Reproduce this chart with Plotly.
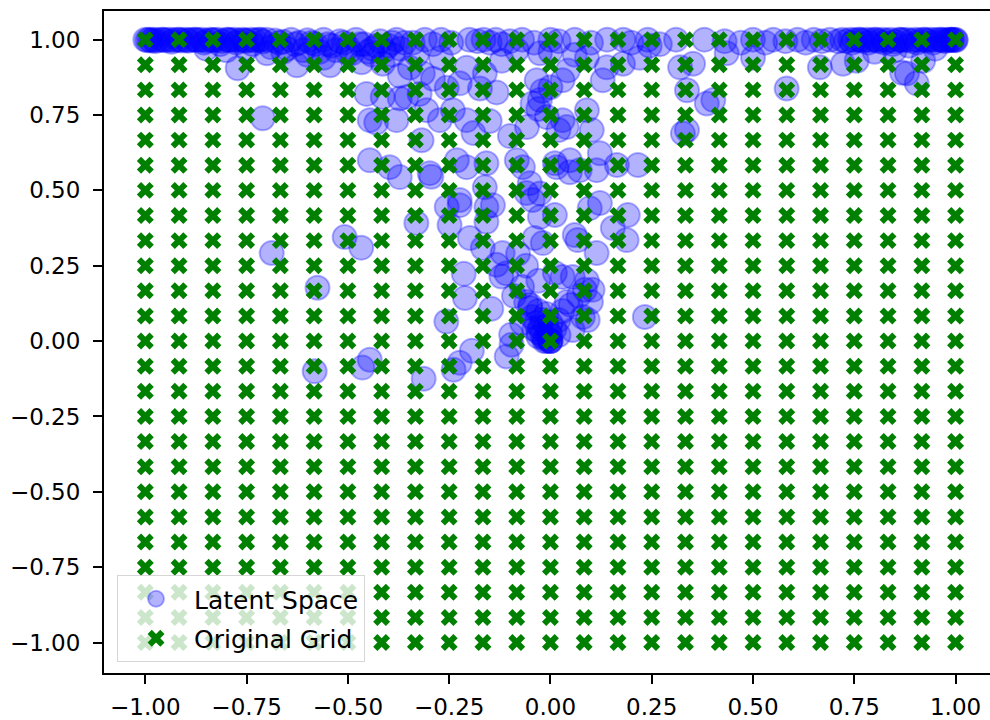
import plotly.graph_objects as go

# ---------------- data ----------------
# original grid coordinates (25 evenly spaced values)
grid_coords = [-1.0, -0.9167, -0.8333, -0.75, -0.6667, -0.5833, -0.5, -0.4167,
               -0.3333, -0.25, -0.1667, -0.0833, 0.0, 0.0833, 0.1667, 0.25,
               0.3333, 0.4167, 0.5, 0.5833, 0.6667, 0.75, 0.8333, 0.9167, 1.0]

# latent space points
top_left_x = [-1.0, -0.995, -0.99, -0.985, -0.98, -0.97, -0.96, -0.95, -0.94, -0.93,
              -0.92, -0.91, -0.9, -0.89, -0.88, -0.87, -0.86, -0.85, -0.84, -0.83,
              -0.82, -0.81, -0.8, -0.79, -0.78, -0.77, -0.76, -0.75, -0.74, -0.73,
              -0.72, -0.71, -0.7, -0.68, -0.66, -0.64, -0.62, -0.6, -0.58, -0.56,
              -0.54, -0.52, -0.5, -0.48, -0.46, -0.44, -0.42, -0.4, -0.38, -0.36]
top_left_y = [1.0, 0.998, 1.0, 0.997, 1.0, 0.999, 1.0, 0.998, 1.0, 0.999,
              1.0, 0.997, 1.0, 0.999, 1.0, 0.998, 1.0, 0.996, 1.0, 0.999,
              1.0, 0.995, 1.0, 0.998, 1.0, 0.997, 1.0, 0.996, 1.0, 0.998,
              1.0, 0.994, 1.0, 0.997, 0.993, 1.0, 0.99, 0.998, 0.985, 1.0,
              0.98, 0.995, 0.975, 1.0, 0.985, 0.97, 0.995, 0.98, 1.0, 0.99]

top_left_extra_x = [-0.975, -0.955, -0.935, -0.915, -0.895, -0.875, -0.855, -0.835, -0.815, -0.795,
                    -0.775, -0.755, -0.735, -0.715, -0.69, -0.67, -0.65, -0.63, -0.61, -0.59,
                    -0.57, -0.55, -0.53, -0.51, -0.49, -0.47, -0.45, -0.43, -0.41, -0.39, -0.37]
top_left_extra_y = [0.995, 1.0, 0.993, 1.0, 0.996, 1.0, 0.99, 0.998, 0.985, 1.0,
                    0.99, 0.997, 0.985, 1.0, 0.975, 0.99, 0.97, 0.985, 0.965, 0.99,
                    0.96, 0.985, 0.965, 0.99, 0.955, 0.985, 0.96, 0.98, 0.965, 0.99, 0.97]

top_mid_x = [-0.34, -0.31, -0.29, -0.27, -0.245, -0.2, -0.18, -0.165, -0.15, -0.135,
             -0.12, -0.1, -0.07, -0.04, 0.0, 0.02, 0.06, 0.1, 0.14, 0.18,
             0.2, 0.24, 0.27, 0.31, 0.38, 0.43, 0.47, 0.5, 0.53, 0.55,
             0.58, 0.61, 0.63, 0.65, 0.67, 0.69, 0.71]
top_mid_y = [0.99, 1.0, 0.985, 1.0, 0.99, 1.0, 0.995, 1.0, 0.99, 1.0,
             0.985, 0.995, 1.0, 0.99, 1.0, 0.995, 1.0, 0.99, 1.0, 1.0,
             0.99, 1.0, 0.985, 1.0, 1.0, 0.995, 0.99, 1.0, 0.99, 1.0,
             0.995, 1.0, 0.99, 1.0, 0.995, 1.0, 0.995]

top_right_x = [0.72, 0.73, 0.74, 0.75, 0.76, 0.77, 0.78, 0.79, 0.8, 0.81,
               0.82, 0.83, 0.84, 0.85, 0.86, 0.87, 0.88, 0.89, 0.9, 0.91,
               0.92, 0.93, 0.94, 0.95, 0.96, 0.97, 0.98, 0.985, 0.99, 0.995, 1.0]
top_right_y = [1.0, 0.995, 1.0, 0.998, 1.0, 0.996, 1.0, 0.998, 1.0, 0.995,
               1.0, 0.997, 1.0, 0.994, 1.0, 0.998, 1.0, 0.996, 1.0, 0.998,
               1.0, 0.997, 1.0, 0.999, 1.0, 0.998, 1.0, 0.999, 1.0, 0.999, 1.0]

top_right_extra_x = [0.745, 0.765, 0.785, 0.805, 0.825, 0.845, 0.865, 0.885, 0.905, 0.925,
                     0.945, 0.965, 0.975, 0.99, 1.0]
top_right_extra_y = [0.99, 1.0, 0.99, 1.0, 0.99, 0.985, 1.0, 0.98, 0.99, 1.0,
                     0.99, 1.0, 0.995, 1.0, 0.998]

second_row_x = [-0.85, -0.8, -0.75, -0.7, -0.66, -0.626, -0.6, -0.56, -0.544, -0.5,
                -0.466, -0.44, -0.414, -0.39, -0.372, -0.347, -0.315, -0.29, -0.33, -0.27,
                -0.207, -0.162, -0.12, -0.083, -0.026, -0.034, 0.043, 0.03, 0.0, 0.06,
                0.09, 0.129, 0.139, 0.179, 0.22, 0.245, 0.32, 0.352, 0.435, 0.5,
                0.665, 0.722, 0.756, 0.88, 0.904, 0.92, 0.868, 0.8, 0.85, 0.95]
second_row_y = [0.97, 0.965, 0.97, 0.955, 0.96, 0.915, 0.95, 0.94, 0.915, 0.955,
                0.925, 0.95, 0.92, 0.95, 0.88, 0.907, 0.888, 0.87, 0.95, 0.94,
                0.907, 0.888, 0.93, 0.965, 0.955, 0.865, 0.898, 0.865, 0.96, 0.95,
                0.94, 0.865, 0.908, 0.92, 0.94, 0.98, 0.908, 0.92, 0.955, 0.94,
                0.908, 0.92, 0.93, 0.888, 0.855, 0.93, 0.89, 0.96, 0.965, 0.97]

scatter_x = [-0.772, -0.71, -0.688, -0.575, -0.582, -0.508, -0.467, -0.446, -0.464, -0.313,
             -0.257, -0.239, -0.224, -0.194, -0.211, -0.214, -0.146, -0.108, -0.097, -0.331,
             -0.454, -0.446, -0.43, -0.414, -0.372, -0.38, -0.355, -0.323, -0.306, -0.273,
             -0.241, -0.207, -0.256, -0.224, -0.174, -0.133, -0.318, -0.446, -0.397, -0.372,
             -0.298, -0.294, -0.231, -0.207, -0.158, -0.162, -0.083, -0.068, -0.051, -0.026,
             -0.044, -0.026, -0.009, 0.03, -0.058, -0.03, -0.02, 0.0, -0.19, -0.15, -0.1]
scatter_y = [0.905, 0.739, 0.292, 0.177, -0.10, 0.345, 0.31, -0.062, -0.088, -0.125,
             0.065, -0.095, -0.072, -0.032, 0.143, 0.223, 0.107, -0.051, 0.021, 0.392,
             0.82, 0.733, 0.725, 0.81, 0.805, 0.733, 0.81, 0.82, 0.766, 0.733,
             0.766, 0.733, 0.84, 0.855, 0.838, 0.825, 0.666, 0.6, 0.577, 0.544,
             0.557, 0.545, 0.6, 0.577, 0.59, 0.51, 0.6, 0.577, 0.524, 0.49,
             0.788, 0.8, 0.743, 0.733, 0.71, 0.77, 0.83, 0.842, 0.69, 0.73, 0.68]

middle_x = [-0.256, -0.224, -0.158, -0.142, -0.224, -0.249, -0.199, -0.158, -0.167, -0.118,
            -0.133, -0.121, -0.109, -0.059, -0.044, -0.026, -0.039, -0.019, 0.011, 0.011,
            0.048, 0.072, 0.114, 0.164, 0.216, 0.122, 0.097, 0.191, 0.154, 0.188,
            0.067, 0.06, 0.114, 0.011, 0.03, 0.055, 0.104, 0.085, 0.08, 0.092,
            0.055, 0.233, -0.096, 0.122, 0.102, 0.09, 0.04, 0.02, 0.048, 0.015,
            0.337, 0.337, 0.386, 0.402, 0.327, 0.583, -0.08, -0.06, -0.07, -0.05,
            -0.09, -0.03, 0.09, 0.1]
middle_y = [0.445, 0.468, 0.445, 0.451, 0.451, 0.385, 0.342, 0.396, 0.309, 0.292,
            0.253, 0.214, 0.225, 0.491, 0.468, 0.412, 0.342, 0.325, 0.418, 0.59,
            0.56, 0.567, 0.567, 0.584, 0.584, 0.458, 0.441, 0.418, 0.375, 0.335,
            0.335, 0.352, 0.292, 0.226, 0.213, 0.213, 0.17, 0.17, 0.08, 0.07,
            0.037, 0.08, -0.012, 0.623, 0.7, 0.766, 0.71, 0.7, 0.6, 0.577,
            0.832, 0.7, 0.788, 0.8, 0.689, 0.838, 0.29, 0.25, 0.18, 0.12,
            0.15, 0.2, 0.2, 0.13]

blob_x = [0.0, 0.0, 0.0, -0.005, -0.01, -0.015, -0.02, -0.005, -0.03, -0.01,
          -0.035, -0.02, -0.045, -0.01, -0.03, -0.05, 0.0, -0.025, -0.04, 0.0,
          -0.015, -0.03, 0.01, 0.02, 0.03, 0.04, -0.06, 0.02, 0.05, 0.07, -0.07]
blob_y = [0.0, 0.0, 0.0, 0.005, 0.0, 0.01, 0.02, 0.03, 0.03, 0.05,
          0.06, 0.07, 0.08, 0.09, 0.1, 0.11, 0.06, 0.045, 0.04, 0.02,
          0.0, 0.015, 0.04, 0.07, 0.1, 0.13, 0.13, 0.02, 0.12, 0.15, 0.06]

tick_values = [-1.0, -0.75, -0.5, -0.25, 0.0, 0.25, 0.5, 0.75, 1.0]
tick_labels = ["\u22121.00", "\u22120.75", "\u22120.50", "\u22120.25", "0.00",
               "0.25", "0.50", "0.75", "1.00"]

latent_x = (top_left_x + top_left_extra_x + top_mid_x + top_right_x + top_right_extra_x
            + second_row_x + scatter_x + middle_x + blob_x)
latent_y = (top_left_y + top_left_extra_y + top_mid_y + top_right_y + top_right_extra_y
            + second_row_y + scatter_y + middle_y + blob_y)

grid_x = [gx for gy in grid_coords for gx in grid_coords]
grid_y = [gy for gy in grid_coords for gx in grid_coords]

# ---------------- figure ----------------
fig = go.Figure()
fig.add_trace(go.Scatter(
    x=latent_x, y=latent_y, mode="markers", name="Latent Space", legendgroup="a",
    marker=dict(symbol="circle", size=24, color="rgba(0,0,255,0.3)",
                line=dict(color="rgba(0,0,255,0.3)", width=2)),
))
fig.add_trace(go.Scatter(
    x=grid_x, y=grid_y, mode="markers", name="Original Grid", legendgroup="b",
    marker=dict(symbol="x", size=15, color="#008000", line=dict(width=0)),
))

axis_common = dict(
    showgrid=False, zeroline=False, showline=True, linecolor="black", linewidth=2,
    ticks="outside", ticklen=9, tickwidth=2, tickcolor="black",
    tickvals=tick_values, ticktext=tick_labels,
    tickfont=dict(family="DejaVu Sans", size=23, color="black"),
)

fig.update_layout(
    width=990, height=720,
    margin=dict(l=104, r=0, t=11, b=44),
    plot_bgcolor="white", paper_bgcolor="white",
    xaxis=dict(range=[-1.102, 1.085], mirror=True, ticklabelstandoff=3, **axis_common),
    yaxis=dict(range=[-1.101, 1.095], mirror=False, ticklabelstandoff=8, **axis_common),
    legend=dict(
        x=0.0147, y=0.0166, xanchor="left", yanchor="bottom",
        bgcolor="rgba(255,255,255,0.8)", bordercolor="rgba(204,204,204,0.8)",
        borderwidth=1, font=dict(family="DejaVu Sans", size=25, color="black"),
        itemwidth=66, tracegroupgap=4,
    ),
    showlegend=True,
)

fig.write_html("out.html")
